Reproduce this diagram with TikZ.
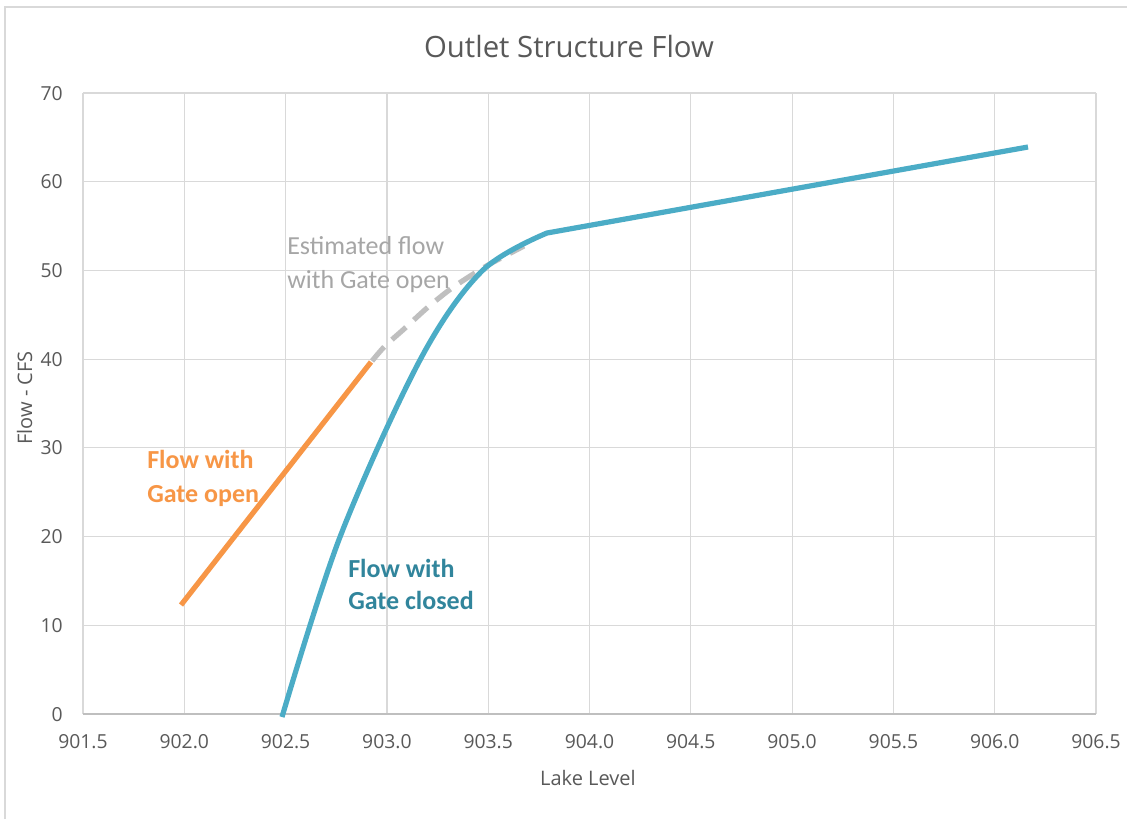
\documentclass[tikz,border=0pt]{standalone}
\usepackage{fontspec}
\setmainfont{Open Sans}
\newfontfamily\calib{Carlito}
\definecolor{gridc}{HTML}{D9D9D9}
\definecolor{framec}{HTML}{D9D9D9}
\definecolor{axisc}{HTML}{BFBFBF}
\definecolor{txtc}{HTML}{595959}
\definecolor{openc}{HTML}{F79646}
\definecolor{closedc}{HTML}{4BACC6}
\definecolor{closedtxt}{HTML}{31859C}
\definecolor{estc}{HTML}{A6A6A6}
\definecolor{dashc}{HTML}{BFBFBF}
\tikzset{
  gridline/.style={gridc, line width=0.9pt},
  ticklab/.style={txtc, inner sep=0pt, font=\fontsize{14.5}{17}\selectfont},
  axislab/.style={txtc, inner sep=0pt, font=\fontsize{15}{18}\selectfont},
  titlelab/.style={txtc, inner sep=0pt, font=\fontsize{22}{26}\selectfont},
  annot/.style={inner sep=0pt, align=left, anchor=base west},
  series/.style={line width=3.9pt},
}
\begin{document}
\begin{tikzpicture}[x=0.75pt,y=-0.75pt]
\useasboundingbox (0,0) rectangle (1127,819);
\fill[white] (0,0) rectangle (1127,819);
% chart frame
\draw[framec, line width=1.4pt] (5,819) -- (5,7) -- (1127,7);
% grid
\foreach \i in {0,...,10} \draw[gridline] ({83+\i*101.3},93) -- ({83+\i*101.3},714);
\foreach \j in {0,...,7} \draw[gridline] (83,{714-\j*88.714}) -- (1096,{714-\j*88.714});
\draw[axisc, line width=1pt] (83,714) -- (1096,714);
% tick labels
\foreach \i/\t in {0/901.5,1/902.0,2/902.5,3/903.0,4/903.5,5/904.0,6/904.5,7/905.0,8/905.5,9/906.0,10/906.5}
  \node[ticklab, anchor=base] (xt\i) at ({83+\i*101.3},748) {\t};
\foreach \j in {0,10,...,70}
  \node[ticklab, anchor=base east] (yt\j) at (63,{714-\j*8.8714+7}) {\j};
% titles
\node[titlelab, anchor=base] (title) at (569,57) {Outlet Structure Flow};
\node[axislab, anchor=base] (xtitle) at (588,785) {Lake Level};
\node[axislab, anchor=base, rotate=90] (ytitle) at (32,398) {Flow - CFS};
% series: gate open
\coordinate (o1) at (181,605);
\coordinate (o2) at (371,362);
\draw[series, openc] (o1) -- (o2);
% estimated (dashed)
\draw[series, dashc, dash pattern=on 14pt off 8pt] plot[smooth, tension=0.5] coordinates {(372,361) (385,346) (404,329) (427,308) (452,288) (483,268) (503,257) (524,246)};
% gate closed
\coordinate (c0) at (282,717);
\coordinate (knee) at (547,233);
\coordinate (cend) at (1028,147);
\draw[series, closedc, line join=round] plot[smooth, tension=0.55] coordinates {(282,717) (340,537) (420,360) (482,271) (547,233)} -- (cend);
% annotations
\node[annot, estc, font=\calib\fontsize{19.5}{25}\selectfont] (estlab) at (287,288) {Estimated flow\\with Gate open};
\node[annot, openc, font=\calib\bfseries\fontsize{19.5}{25.5}\selectfont] (openlab) at (147,502) {Flow with\\Gate open};
\node[annot, closedtxt, font=\calib\bfseries\fontsize{19.5}{24}\selectfont] (closedlab) at (348,609) {Flow with\\Gate closed};
\end{tikzpicture}
\end{document}
